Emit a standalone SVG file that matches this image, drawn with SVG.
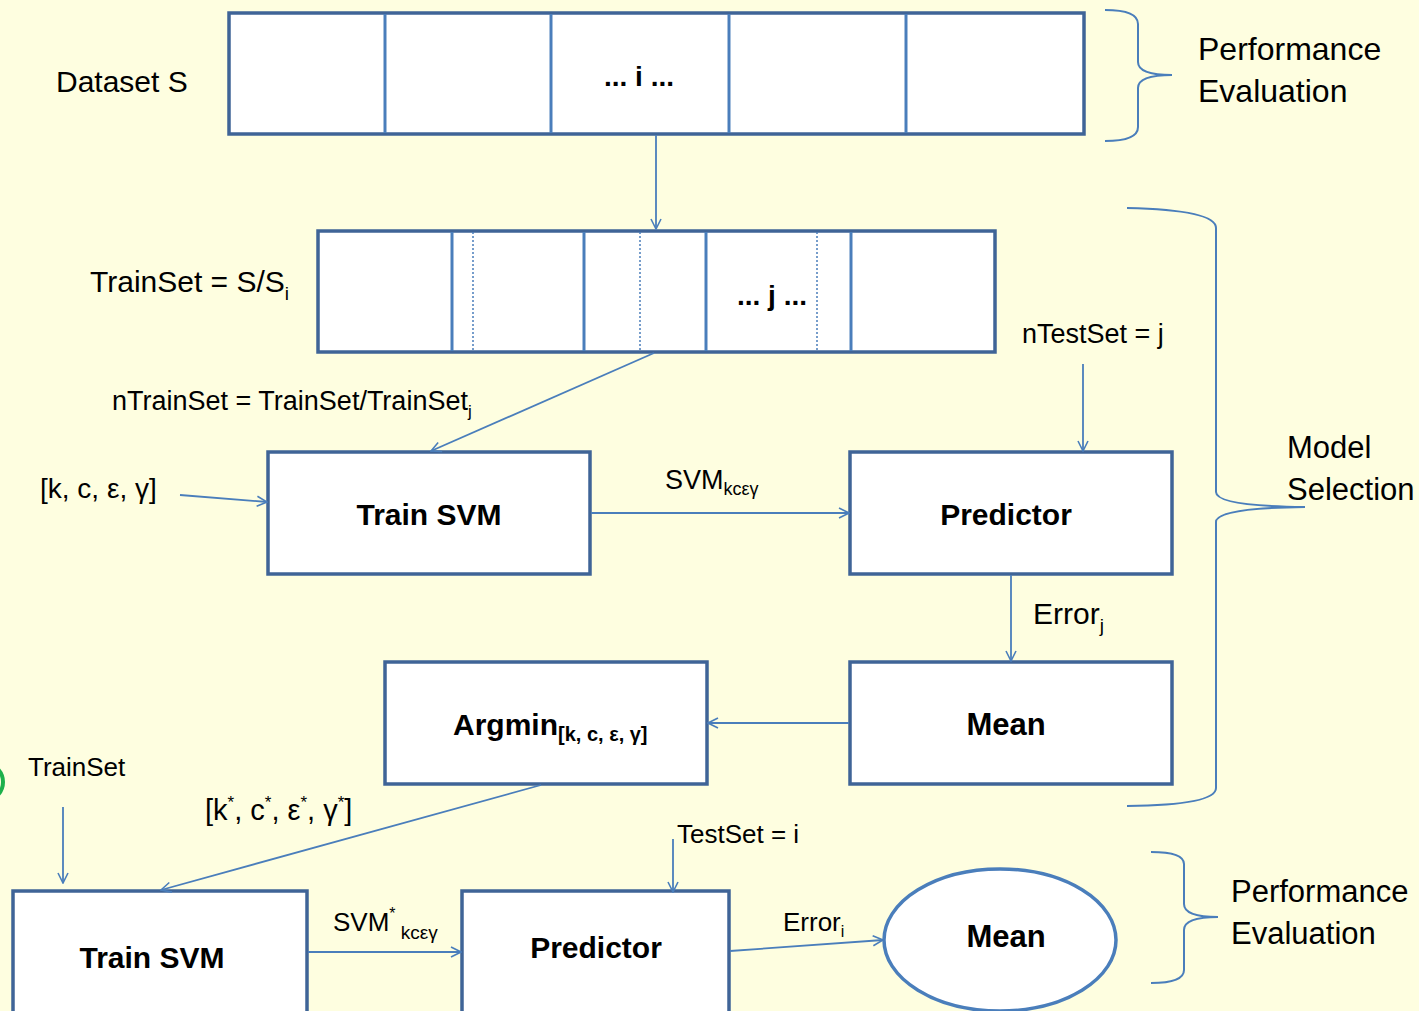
<svg xmlns="http://www.w3.org/2000/svg" width="1419" height="1011" viewBox="0 0 1419 1011">
<defs>
<marker id="arr" viewBox="0 0 12 12" refX="11" refY="6" markerWidth="12" markerHeight="12" markerUnits="userSpaceOnUse" orient="auto">
<path d="M1,1 L11,6 L1,11" fill="none" stroke="#4A7EBB" stroke-width="1.6"/>
</marker>
<style>
.bg{fill:#FEFEE0}
.box{fill:#fff;stroke:#3F6497;stroke-width:3.5}
.div{stroke:#4A7EBB;stroke-width:3}
.dot{stroke:#4A7EBB;stroke-width:1.5;stroke-dasharray:2 2}
.con{fill:none;stroke:#4A7EBB;stroke-width:1.8}
.brace{fill:none;stroke:#4A7EBB;stroke-width:2}
.t{font-family:"Liberation Sans",Arial,sans-serif;fill:#000}
.b{font-family:"Liberation Sans",Arial,sans-serif;font-weight:bold;fill:#000}
</style>
</defs>
<rect class="bg" x="0" y="0" width="1419" height="1011"/>

<circle cx="-16" cy="782" r="19" fill="none" stroke="#1DB04B" stroke-width="4"/>

<g id="dataset">
<rect class="box" x="229" y="13" width="855" height="121"/>
<line class="div" x1="385" y1="14" x2="385" y2="133"/>
<line class="div" x1="551" y1="14" x2="551" y2="133"/>
<line class="div" x1="729" y1="14" x2="729" y2="133"/>
<line class="div" x1="906" y1="14" x2="906" y2="133"/>
<text class="b" x="639" y="86" font-size="28" text-anchor="middle">... i ...</text>
<text class="t" x="56" y="92" font-size="30">Dataset S</text>
</g>

<g id="trainset">
<rect class="box" x="318" y="231" width="677" height="121"/>
<line class="div" x1="452" y1="232" x2="452" y2="351"/>
<line class="div" x1="584" y1="232" x2="584" y2="351"/>
<line class="div" x1="706" y1="232" x2="706" y2="351"/>
<line class="div" x1="851" y1="232" x2="851" y2="351"/>
<line class="dot" x1="473" y1="232" x2="473" y2="351"/>
<line class="dot" x1="640" y1="232" x2="640" y2="351"/>
<line class="dot" x1="817" y1="232" x2="817" y2="351"/>
<text class="b" x="772" y="305" font-size="28" text-anchor="middle">... j ...</text>
<text class="t" x="90" y="292" font-size="30">TrainSet = S/S<tspan font-size="19" dy="8">i</tspan></text>
</g>

<g id="trainsvm1">
<rect class="box" x="268" y="452" width="322" height="122"/>
<text class="b" x="429" y="525" font-size="30" text-anchor="middle">Train SVM</text>
</g>
<g id="predictor1">
<rect class="box" x="850" y="452" width="322" height="122"/>
<text class="b" x="1006" y="525" font-size="30" text-anchor="middle">Predictor</text>
</g>
<g id="mean1">
<rect class="box" x="850" y="662" width="322" height="122"/>
<text class="b" x="1006" y="735" font-size="31" text-anchor="middle">Mean</text>
</g>
<g id="argmin">
<rect class="box" x="385" y="662" width="322" height="122"/>
<text class="b" x="453" y="735" font-size="30">Argmin<tspan font-size="20" dy="6">[k, c, ε, γ]</tspan></text>
</g>
<g id="trainsvm2">
<rect class="box" x="13" y="891" width="294" height="140"/>
<text class="b" x="152" y="968" font-size="30" text-anchor="middle">Train SVM</text>
</g>
<g id="predictor2">
<rect class="box" x="462" y="891" width="267" height="140"/>
<text class="b" x="596" y="958" font-size="30" text-anchor="middle">Predictor</text>
</g>
<g id="mean2">
<ellipse cx="1000" cy="940" rx="116" ry="71" fill="#fff" stroke="#4A7EBB" stroke-width="3.5"/>
<text class="b" x="1006" y="947" font-size="31" text-anchor="middle">Mean</text>
</g>

<g id="connectors">
<line class="con" x1="656" y1="135" x2="656" y2="229" marker-end="url(#arr)"/>
<line class="con" x1="654" y1="353" x2="431" y2="451" marker-end="url(#arr)"/>
<line class="con" x1="180" y1="495" x2="267" y2="502" marker-end="url(#arr)"/>
<line class="con" x1="591" y1="513" x2="849" y2="513" marker-end="url(#arr)"/>
<line class="con" x1="1083" y1="364" x2="1083" y2="451" marker-end="url(#arr)"/>
<line class="con" x1="1011" y1="575" x2="1011" y2="661" marker-end="url(#arr)"/>
<line class="con" x1="849" y1="723" x2="708" y2="723" marker-end="url(#arr)"/>
<line class="con" x1="541" y1="785" x2="161" y2="890" marker-end="url(#arr)"/>
<line class="con" x1="63" y1="807" x2="63" y2="883" marker-end="url(#arr)"/>
<line class="con" x1="673" y1="839" x2="673" y2="892" marker-end="url(#arr)"/>
<line class="con" x1="308" y1="952" x2="461" y2="952" marker-end="url(#arr)"/>
<line class="con" x1="730" y1="951" x2="883" y2="940" marker-end="url(#arr)"/>
</g>

<g id="labels">
<text class="t" x="112" y="410" font-size="27">nTrainSet = TrainSet/TrainSet<tspan font-size="17" dy="7">j</tspan></text>
<text class="t" x="40" y="498" font-size="28">[k, c, ε, γ]</text>
<text class="t" x="665" y="489" font-size="27">SVM<tspan font-size="18" dy="6">kcεγ</tspan></text>
<text class="t" x="1022" y="343" font-size="27">nTestSet = j</text>
<text class="t" x="1033" y="624" font-size="30">Error<tspan font-size="19" dy="8">j</tspan></text>
<text class="t" x="28" y="776" font-size="26">TrainSet</text>
<text class="t" x="205" y="820" font-size="29">[k<tspan font-size="17" dy="-12">*</tspan><tspan dy="12">, c</tspan><tspan font-size="17" dy="-12">*</tspan><tspan dy="12">, ε</tspan><tspan font-size="17" dy="-12">*</tspan><tspan dy="12">, γ</tspan><tspan font-size="17" dy="-12">*</tspan><tspan dy="12">]</tspan></text>
<text class="t" x="677" y="843" font-size="26">TestSet = i</text>
<text class="t" x="333" y="931" font-size="26">SVM<tspan font-size="16" dy="-12">*</tspan><tspan font-size="19" dy="20"> kcεγ</tspan></text>
<text class="t" x="783" y="931" font-size="26">Error<tspan font-size="16" dy="6">i</tspan></text>
</g>

<g id="braces">
<path class="brace" d="M1105,10 Q1138,10 1138,24 L1138,62 Q1138,75 1172,75 Q1138,75 1138,88 L1138,127 Q1138,141 1105,141"/>
<text class="t" x="1198" y="60" font-size="32">Performance</text>
<text class="t" x="1198" y="102" font-size="32">Evaluation</text>
<path class="brace" d="M1127,208 Q1216,210 1216,228 L1216,492 Q1216,506 1305,507 Q1216,508 1216,522 L1216,788 Q1216,805 1127,806"/>
<text class="t" x="1287" y="458" font-size="31">Model</text>
<text class="t" x="1287" y="500" font-size="31">Selection</text>
<path class="brace" d="M1151,852 Q1184,852 1184,864 L1184,904 Q1184,917 1218,917 Q1184,917 1184,930 L1184,970 Q1184,983 1151,983"/>
<text class="t" x="1231" y="902" font-size="31">Performance</text>
<text class="t" x="1231" y="944" font-size="31">Evaluation</text>
</g>
</svg>
